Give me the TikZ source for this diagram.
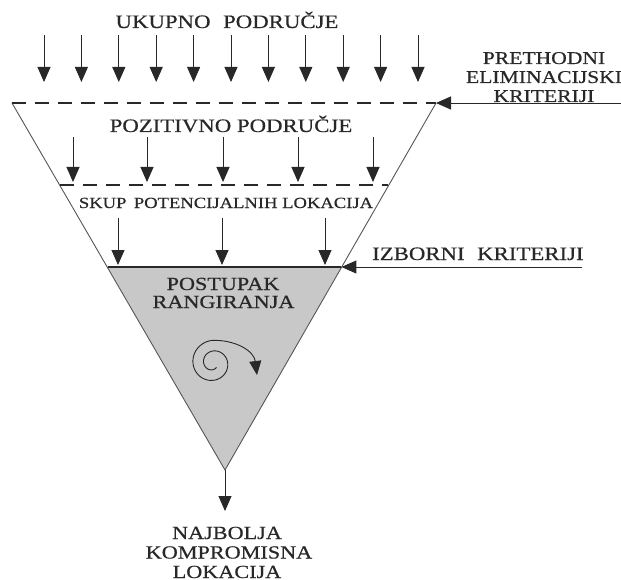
\documentclass[tikz,border=0pt]{standalone}
\usepackage{fontspec}
\usepackage{graphicx}
\setmainfont{Liberation Serif}
\newfontfamily\labfont[FakeBold=0.5]{Liberation Serif}
\usetikzlibrary{arrows.meta,calc}
\definecolor{ink}{RGB}{40,40,40}
\definecolor{linegray}{RGB}{85,85,85}
\definecolor{fillgray}{RGB}{200,200,200}
\newcommand{\wide}[1]{\scalebox{1.2}[1]{#1}}
\tikzset{
  arr/.style={draw=ink, line width=0.9bp, -{Triangle[width=13bp,length=15bp]}},
  dashline/.style={draw=ink, line width=1.3bp, dash pattern=on 14bp off 9bp},
  side/.style={draw=linegray, line width=0.9bp},
  lab/.style={text=ink, inner sep=0pt, anchor=base, font=\labfont\fontsize{#1bp}{#1bp}\selectfont},
  lab/.default=19
}
\begin{document}
\begin{tikzpicture}[x=1bp,y=-1bp]
\useasboundingbox (0,0) rectangle (621,580);
% funnel geometry
\coordinate (L1) at (12,103);
\coordinate (R1) at (436,103);
\coordinate (A) at (225,470);
\coordinate (L2) at (60,185);
\coordinate (R2) at (388.4,185);
\coordinate (L3) at (107.5,267);
\coordinate (R3) at (341.4,267);
% shaded triangle
\fill[fillgray] (L3) -- (R3) -- (A) -- cycle;
\draw[side] (L1) -- (A) -- (R1);
\draw[draw=ink, line width=1.1bp] (L3) -- (R3);
\draw[dashline] (L1) -- (R1);
\draw[dashline] (L2) -- (R2);
% top text and arrows
\node[lab=19] (ukupno) at (227,28) {\wide{UKUPNO\hspace{0.3em} PODRUČJE}};
\foreach \i in {0,...,10}{
  \coordinate (ta\i) at ({44+37.4*\i},35);
  \coordinate (tb\i) at ({44+37.4*\i},82);
  \draw[arr] (ta\i) -- (tb\i);
}
% right label 1
\node[lab=18] (pre1) at (544,64) {\wide{PRETHODNI}};
\node[lab=18] (pre2) at (544,83) {\wide{ELIMINACIJSKI}};
\node[lab=18] (pre3) at (544,102) {\wide{KRITERIJI}};
\coordinate (E1) at (621,103);
\draw[arr] (E1) -- (R1);
% positive area
\node[lab=19] (poz) at (231,132) {\wide{POZITIVNO PODRUČJE}};
\foreach \x [count=\i] in {73,147,223,298,373}{
  \coordinate (ma\i) at (\x,137);
  \coordinate (mb\i) at (\x,182);
  \draw[arr] (ma\i) -- (mb\i);
}
% set of potential locations
\node[lab=15.5] (skup) at (226,208) {\wide{SKUP\hspace{0.15em} POTENCIJALNIH LOKACIJA}};
\foreach \x [count=\i] in {118,222,325}{
  \coordinate (la\i) at (\x,218);
  \coordinate (lb\i) at (\x,265);
  \draw[arr] (la\i) -- (lb\i);
}
% selection criteria
\node[lab=19, anchor=base west] (izb) at (372,260) {\wide{IZBORNI\hspace{0.3em} KRITERIJI}};
\coordinate (E2) at (582,267);
\draw[arr] (E2) -- (R3);
% ranking
\node[lab=18.5] (post) at (223,290) {\wide{POSTUPAK}};
\node[lab=18.5] (rang) at (223.5,308) {\wide{RANGIRANJA}};
% spiral
\draw[draw=ink, line width=0.9bp, -{Triangle[width=12bp,length=14bp]}]
  plot[domain=0.9:10.9956, samples=120, smooth]
    ({213+(4+1.7*\x)*cos(\x r)}, {363+(4+1.7*\x)*sin(\x r)})
  .. controls (236,340) and (254,351) .. (257,375);
% output
\coordinate (B) at (225,511);
\draw[arr] (A) -- (B);
\node[lab=18.5] (naj1) at (227,539) {\wide{NAJBOLJA}};
\node[lab=18.5] (naj2) at (229,558.5) {\wide{KOMPROMISNA}};
\node[lab=18.5] (naj3) at (227,578) {\wide{LOKACIJA}};
\end{tikzpicture}
\end{document}
